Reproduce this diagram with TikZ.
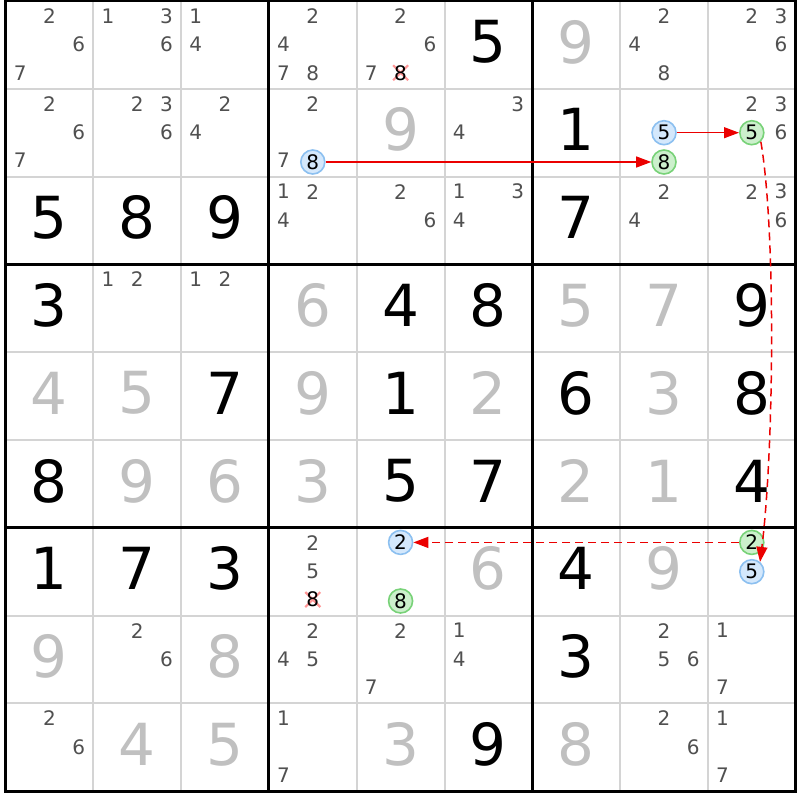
\documentclass[tikz,border=0pt]{standalone}
\usepackage{fontspec}
\setmainfont{DejaVu Sans}
\usetikzlibrary{arrows.meta}
\definecolor{candgray}{RGB}{80,80,80}
\definecolor{givengray}{RGB}{192,192,192}
\definecolor{thingrid}{RGB}{212,212,212}
\definecolor{bluefill}{RGB}{212,232,252}
\definecolor{blueline}{RGB}{140,192,240}
\definecolor{greenfill}{RGB}{204,240,204}
\definecolor{greenline}{RGB}{120,210,120}
\definecolor{crosspink}{RGB}{255,150,150}
\definecolor{linkred}{RGB}{235,0,0}
\tikzset{
  cand/.style={text=candgray, font=\fontsize{20}{20}\selectfont, inner sep=0pt},
  bigblack/.style={text=black, font=\fontsize{58}{58}\selectfont, inner sep=0pt},
  biggray/.style={bigblack, text=givengray},
  bluecirc/.style={circle, draw=blueline, fill=bluefill, line width=1.6pt, minimum size=24pt, inner sep=0pt, text=black, font=\fontsize{20}{20}\selectfont},
  greencirc/.style={bluecirc, draw=greenline, fill=greenfill},
  strongarrow/.style={draw=linkred, line width=1.1pt, -{Triangle[length=15pt,width=11pt]}},
  weakarrow/.style={draw=linkred, line width=1.5pt, dash pattern=on 8pt off 5pt, -{Triangle[length=15pt,width=11pt]}},
  crossline/.style={draw=crosspink, line width=2.2pt},
  thinline/.style={draw=thingrid, line width=2pt},
  thickline/.style={draw=black, line width=3pt},
}
\newcommand{\candpos}[3]{%
  \pgfmathsetmacro{\cx}{5.5+(#2-1)*87.8+(mod(#3-1,3)+0.5)*29.2667}%
  \pgfmathsetmacro{\cy}{1+(#1-1)*87.8+15.0+floor((#3-1)/3)*28.4}%
}
\newcommand{\circpos}[3]{%
  \pgfmathsetmacro{\cx}{5.5+(#2-1)*87.8+(mod(#3-1,3)+0.5)*29.2667}%
  \pgfmathsetmacro{\cy}{1+(#1-1)*87.8+14.6+floor((#3-1)/3)*29.3}%
}
\newcommand{\cands}[3]{\foreach \d in {#3}{\candpos{#1}{#2}{\d}\node[cand] (n#1#2\d) at (\cx,\cy) {\d};}}
\newcommand{\bigd}[4]{\node[#4] (b#1#2) at ({5.5+(#2-0.5)*87.8},{1+(#1-0.5)*87.8-3}) {#3};}
\newcommand{\crossed}[3]{\candpos{#1}{#2}{#3}%
  \draw[crossline] (\cx-7.5,\cy-7.5) -- (\cx+7.5,\cy+7.5) (\cx-7.5,\cy+7.5) -- (\cx+7.5,\cy-7.5);%
  \node[cand,text=black] (x#1#2#3) at (\cx,\cy) {#3};}
\newcommand{\circd}[5]{\circpos{#1}{#2}{#3}\node[#4] (#5) at (\cx,\cy) {#3};}
\begin{document}
\begin{tikzpicture}[x=1pt,y=-1pt]
\useasboundingbox[fill=white] (0,0) rectangle (800,800);
% thin grid
\foreach \i in {1,2,4,5,7,8}{
  \draw[thinline] ({5.5+\i*87.8},1) -- ({5.5+\i*87.8},791);
  \draw[thinline] (5.5,{1+\i*87.8}) -- (795.5,{1+\i*87.8});
}
\foreach \i in {0,3,6,9}{
  \draw[thickline] ({5.5+\i*87.8},-0.5) -- ({5.5+\i*87.8},792.5);
  \draw[thickline] (4,{1+\i*87.8}) -- (797,{1+\i*87.8});
}
% row 1
\cands{1}{1}{2,6,7}
\cands{1}{2}{1,3,6}
\cands{1}{3}{1,4}
\cands{1}{4}{2,4,7,8}
\cands{1}{5}{2,6,7}
\crossed{1}{5}{8}
\bigd{1}{6}{5}{bigblack}
\bigd{1}{7}{9}{biggray}
\cands{1}{8}{2,4,8}
\cands{1}{9}{2,3,6}
% row 2
\cands{2}{1}{2,6,7}
\cands{2}{2}{2,3,6}
\cands{2}{3}{2,4}
\cands{2}{4}{2,7}
\circd{2}{4}{8}{bluecirc}{bEightA}
\bigd{2}{5}{9}{biggray}
\cands{2}{6}{3,4}
\bigd{2}{7}{1}{bigblack}
\circd{2}{8}{5}{bluecirc}{bFiveA}
\circd{2}{8}{8}{greencirc}{gEightA}
\cands{2}{9}{2,3,6}
\circd{2}{9}{5}{greencirc}{gFiveA}
% row 3
\bigd{3}{1}{5}{bigblack}
\bigd{3}{2}{8}{bigblack}
\bigd{3}{3}{9}{bigblack}
\cands{3}{4}{1,2,4}
\cands{3}{5}{2,6}
\cands{3}{6}{1,3,4}
\bigd{3}{7}{7}{bigblack}
\cands{3}{8}{2,4}
\cands{3}{9}{2,3,6}
% row 4
\bigd{4}{1}{3}{bigblack}
\cands{4}{2}{1,2}
\cands{4}{3}{1,2}
\bigd{4}{4}{6}{biggray}
\bigd{4}{5}{4}{bigblack}
\bigd{4}{6}{8}{bigblack}
\bigd{4}{7}{5}{biggray}
\bigd{4}{8}{7}{biggray}
\bigd{4}{9}{9}{bigblack}
% row 5
\bigd{5}{1}{4}{biggray}
\bigd{5}{2}{5}{biggray}
\bigd{5}{3}{7}{bigblack}
\bigd{5}{4}{9}{biggray}
\bigd{5}{5}{1}{bigblack}
\bigd{5}{6}{2}{biggray}
\bigd{5}{7}{6}{bigblack}
\bigd{5}{8}{3}{biggray}
\bigd{5}{9}{8}{bigblack}
% row 6
\bigd{6}{1}{8}{bigblack}
\bigd{6}{2}{9}{biggray}
\bigd{6}{3}{6}{biggray}
\bigd{6}{4}{3}{biggray}
\bigd{6}{5}{5}{bigblack}
\bigd{6}{6}{7}{bigblack}
\bigd{6}{7}{2}{biggray}
\bigd{6}{8}{1}{biggray}
\bigd{6}{9}{4}{bigblack}
% row 7
\bigd{7}{1}{1}{bigblack}
\bigd{7}{2}{7}{bigblack}
\bigd{7}{3}{3}{bigblack}
\cands{7}{4}{2,5}
\crossed{7}{4}{8}
\circd{7}{5}{2}{bluecirc}{bTwoA}
\circd{7}{5}{8}{greencirc}{gEightB}
\bigd{7}{6}{6}{biggray}
\bigd{7}{7}{4}{bigblack}
\bigd{7}{8}{9}{biggray}
\circd{7}{9}{2}{greencirc}{gTwoA}
\circd{7}{9}{5}{bluecirc}{bFiveB}
% row 8
\bigd{8}{1}{9}{biggray}
\cands{8}{2}{2,6}
\bigd{8}{3}{8}{biggray}
\cands{8}{4}{2,4,5}
\cands{8}{5}{2,7}
\cands{8}{6}{1,4}
\bigd{8}{7}{3}{bigblack}
\cands{8}{8}{2,5,6}
\cands{8}{9}{1,7}
% row 9
\cands{9}{1}{2,6}
\bigd{9}{2}{4}{biggray}
\bigd{9}{3}{5}{biggray}
\cands{9}{4}{1,7}
\bigd{9}{5}{3}{biggray}
\bigd{9}{6}{9}{bigblack}
\bigd{9}{7}{8}{biggray}
\cands{9}{8}{2,6}
\cands{9}{9}{1,7}
% links
\draw[strongarrow] (bEightA) -- (gEightA);
\draw[strongarrow] (bFiveA) -- (gFiveA);
\draw[weakarrow] (gFiveA.-45) .. controls (776,230) and (774,450) .. (bFiveB.50);
\draw[weakarrow] (gTwoA) -- (bTwoA);
\end{tikzpicture}
\end{document}
